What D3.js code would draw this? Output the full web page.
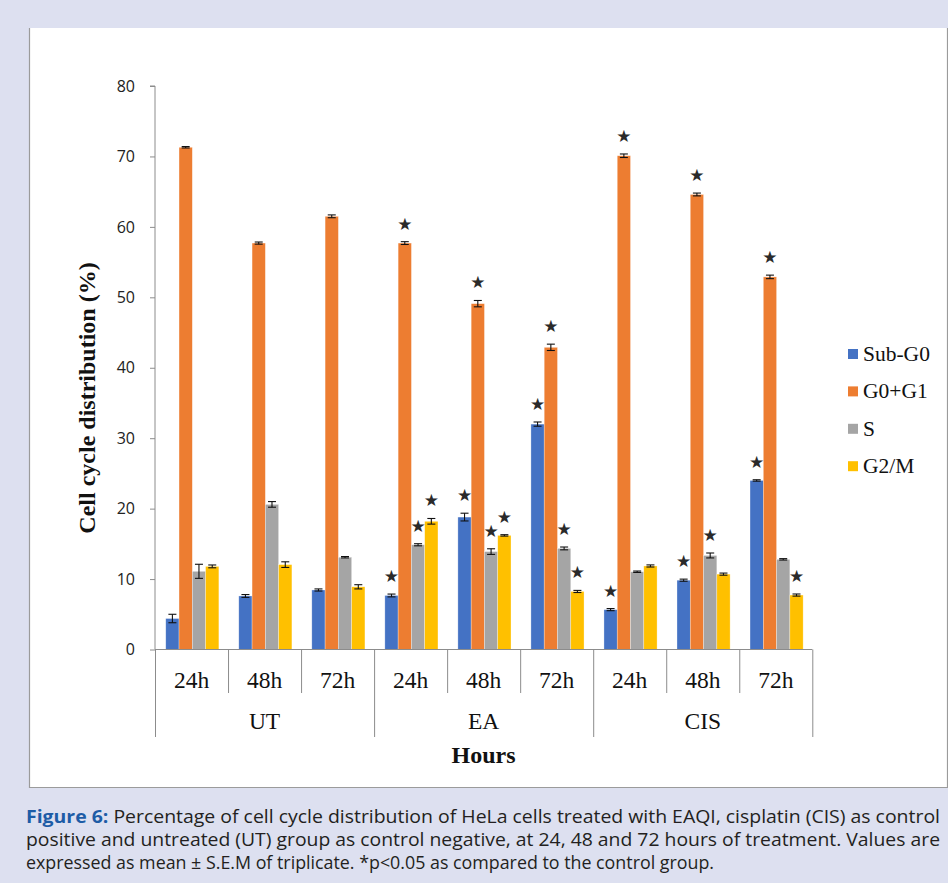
<!DOCTYPE html>
<html>
<head>
<meta charset="utf-8">
<script src="https://cdn.jsdelivr.net/npm/d3@7"></script>
<style>
  html, body { margin: 0; padding: 0; background: #dde0f0; }
  svg { display: block; }
</style>
</head>
<body>
<svg id="fig" width="948" height="883"></svg>
<script>
// Treatment groups, time points and cell-cycle phases
const groups = ["UT", "EA", "CIS"];
const hours = ["24h", "48h", "72h"];
const phases = ["Sub-G0", "G0+G1", "S", "G2/M"];
const phaseColors = ["#4472c4", "#ed7d31", "#a5a5a5", "#ffc000"];
const yTicks = [0, 10, 20, 30, 40, 50, 60, 70, 80];

// Mean percentages, ordered UT 24/48/72, EA 24/48/72, CIS 24/48/72
const subG0 = [4.4, 7.6, 8.45, 7.67, 18.8, 32.0, 5.66, 9.84, 24.0];
const g0g1  = [71.3, 57.7, 61.5, 57.7, 49.1, 42.9, 70.1, 64.6, 52.9];
const sPhase = [11.1, 20.6, 13.1, 14.87, 13.9, 14.35, 11.04, 13.35, 12.8];
const g2m   = [11.8, 12.05, 8.9, 18.2, 16.2, 8.24, 11.86, 10.7, 7.73];

// S.E.M.
const subG0Err = [0.6, 0.2, 0.15, 0.2, 0.55, 0.3, 0.15, 0.15, 0.1];
const g0g1Err  = [0.1, 0.15, 0.2, 0.2, 0.45, 0.45, 0.25, 0.2, 0.25];
const sPhaseErr = [1.0, 0.4, 0.1, 0.15, 0.4, 0.2, 0.1, 0.35, 0.1];
const g2mErr   = [0.2, 0.4, 0.3, 0.4, 0.1, 0.15, 0.15, 0.15, 0.15];

// p<0.05 vs control
const subG0Sig = [0, 0, 0, 1, 1, 1, 1, 1, 1];
const g0g1Sig  = [0, 0, 0, 1, 1, 1, 1, 1, 1];
const sPhaseSig = [0, 0, 0, 1, 1, 1, 0, 1, 0];
const g2mSig   = [0, 0, 0, 1, 1, 1, 0, 0, 1];

const seriesValues = [subG0, g0g1, sPhase, g2m];
const seriesErrs = [subG0Err, g0g1Err, sPhaseErr, g2mErr];
const seriesSig = [subG0Sig, g0g1Sig, sPhaseSig, g2mSig];

const captionLines = [
  { bold: "Figure 6:", rest: " Percentage of cell cycle distribution of HeLa cells treated with EAQI, cisplatin (CIS) as control", len: 914 },
  { bold: "", rest: "positive and untreated (UT) group as control negative, at 24, 48 and 72 hours of treatment. Values are", len: 914 },
  { bold: "", rest: "expressed as mean \u00b1 S.E.M of triplicate. *p<0.05 as compared to the control group.", len: 688 }
];

// Flatten into category keys and bar records
const categories = [];
groups.forEach(g => hours.forEach(h => categories.push({ key: g + "|" + h, group: g, hour: h })));
const bars = [];
categories.forEach((c, i) => phases.forEach((p, j) => bars.push({
  cat: c.key, phase: p, color: phaseColors[j],
  value: seriesValues[j][i], err: seriesErrs[j][i], sig: seriesSig[j][i]
})));

const svg = d3.select("#fig");

// Page background and chart panel
svg.append("rect").attr("width", 948).attr("height", 883).attr("fill", "#dde0f0");
svg.append("rect").attr("x", 29).attr("y", 28).attr("width", 918).attr("height", 760).attr("fill", "#ffffff");
svg.append("path").attr("d", "M29.5,28 V787.5 H947.5 V28").attr("fill", "none").attr("stroke", "#9b9b9b").attr("stroke-width", 1.2);

// Scales
const x0 = d3.scaleBand().domain(categories.map(c => c.key)).range([155, 812.3]).paddingInner(0).paddingOuter(0);
const step = x0.bandwidth();
const x1 = d3.scaleBand().domain(phases).range([step * 0.75 / 5.5 + 0.8, step - step * 0.75 / 5.5 + 0.8]).padding(0);
const y = d3.scaleLinear().domain([0, 80]).range([649.5, 86]);

// Y axis
const yAxis = svg.append("g").attr("transform", "translate(155,0)")
  .call(d3.axisLeft(y).tickValues(yTicks).tickSize(5).tickPadding(15));
yAxis.select(".domain").attr("stroke", "#8c8c8c").attr("d", `M-5,${y(80)}H0V${y(0)}`);
yAxis.selectAll(".tick line").attr("stroke", "#8c8c8c");
yAxis.selectAll(".tick text").attr("font-family", "'Open Sans', sans-serif").attr("font-size", 16).attr("fill", "#222");

// Bars
const barG = svg.append("g");
barG.selectAll("rect").data(bars).join("rect")
  .attr("x", d => x0(d.cat) + x1(d.phase))
  .attr("y", d => y(d.value))
  .attr("width", x1.bandwidth())
  .attr("height", d => y(0) - y(d.value))
  .attr("fill", d => d.color)
  .attr("stroke", "#ffffff").attr("stroke-opacity", 0.5).attr("stroke-width", 0.6);

// Error bars
const errG = svg.append("g").attr("stroke", "#111").attr("stroke-width", 1.1);
const cap = 4;
bars.forEach(d => {
  const cx = x0(d.cat) + x1(d.phase) + x1.bandwidth() / 2;
  const top = y(d.value + d.err), bot = y(d.value - d.err);
  errG.append("line").attr("x1", cx).attr("x2", cx).attr("y1", top).attr("y2", bot);
  errG.append("line").attr("x1", cx - cap).attr("x2", cx + cap).attr("y1", top).attr("y2", top);
  errG.append("line").attr("x1", cx - cap).attr("x2", cx + cap).attr("y1", bot).attr("y2", bot);
});

// Significance stars
svg.append("g").selectAll("text").data(bars.filter(d => d.sig)).join("text")
  .attr("x", d => x0(d.cat) + x1(d.phase) + x1.bandwidth() / 2)
  .attr("y", d => y(d.value + d.err) - 18)
  .attr("text-anchor", "middle").attr("dominant-baseline", "central")
  .attr("font-family", "'DejaVu Sans', sans-serif").attr("font-size", 17)
  .attr("fill", "#2a2a2a").text("\u2605");

// Category axis: baseline, separators, labels
const axisColor = "#8c8c8c";
svg.append("line").attr("x1", 155).attr("x2", 812.3).attr("y1", y(0)).attr("y2", y(0)).attr("stroke", axisColor);
categories.forEach((c, i) => {
  const xl = x0(c.key);
  const isGroupEdge = i % 3 === 0;
  svg.append("line").attr("x1", xl + 0.5).attr("x2", xl + 0.5).attr("y1", y(0)).attr("y2", isGroupEdge ? 737 : 693).attr("stroke", axisColor);
  svg.append("text").attr("x", xl + step / 2).attr("y", 688)
    .attr("text-anchor", "middle").attr("font-family", "'Liberation Serif', serif").attr("font-size", 23.5).attr("fill", "#111").text(c.hour);
});
svg.append("line").attr("x1", 812.8).attr("x2", 812.8).attr("y1", y(0)).attr("y2", 737).attr("stroke", axisColor);
groups.forEach((g, gi) => {
  const first = x0(categories[gi * 3].key);
  svg.append("text").attr("x", first + step * 1.5).attr("y", 729)
    .attr("text-anchor", "middle").attr("font-family", "'Liberation Serif', serif").attr("font-size", 23.5).attr("fill", "#111").text(g);
});

// Axis titles
svg.append("text").attr("x", 483.5).attr("y", 763).attr("text-anchor", "middle")
  .attr("font-family", "'Liberation Serif', serif").attr("font-weight", "bold").attr("font-size", 24).attr("fill", "#111").text("Hours");
svg.append("text").attr("transform", "translate(95,398) rotate(-90)").attr("text-anchor", "middle")
  .attr("font-family", "'Liberation Serif', serif").attr("font-weight", "bold").attr("font-size", 24).attr("fill", "#111").text("Cell cycle distribution (%)");

// Legend
const legend = svg.append("g");
phases.forEach((p, j) => {
  const cy = 354 + j * 37.4;
  legend.append("rect").attr("x", 848).attr("y", cy - 5).attr("width", 10).attr("height", 10).attr("fill", phaseColors[j]);
  legend.append("text").attr("x", 863).attr("y", cy + 7)
    .attr("font-family", "'Liberation Serif', serif").attr("font-size", 21.5).attr("fill", "#111").text(p);
});

// Caption
captionLines.forEach((ln, i) => {
  const t = svg.append("text").attr("x", 26).attr("y", 823 + i * 23.2)
    .attr("font-family", "'Liberation Sans Narrow', 'Open Sans', sans-serif").attr("font-size", 18.5).attr("fill", "#231f20")
    .attr("textLength", ln.len).attr("lengthAdjust", "spacingAndGlyphs");
  if (ln.bold) t.append("tspan").attr("font-weight", "bold").attr("fill", "#1d5ca6").text(ln.bold);
  t.append("tspan").text(ln.rest);
});
</script>
</body>
</html>
